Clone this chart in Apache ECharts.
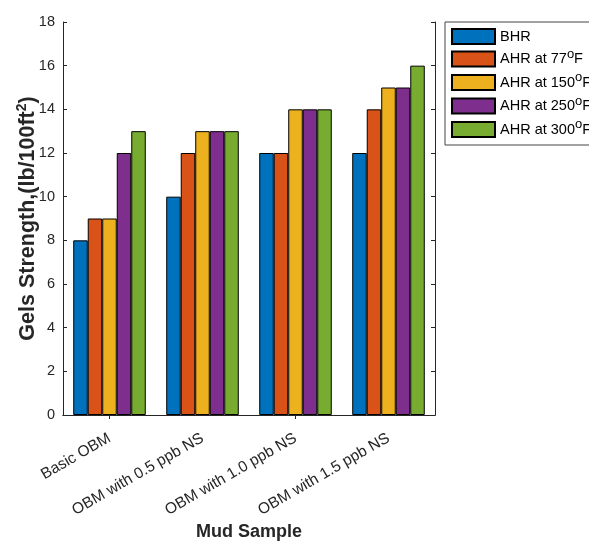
<!DOCTYPE html>
<html><head><meta charset="utf-8">
<script src="https://cdn.jsdelivr.net/npm/echarts@6/dist/echarts.min.js"></script>
<style>html,body{margin:0;padding:0;background:#fff}#c{width:589px;height:543px}</style>
</head><body><div id="c"></div>
<script>
const categories = ['Basic OBM', 'OBM with 0.5 ppb NS', 'OBM with 1.0 ppb NS', 'OBM with 1.5 ppb NS'];
const seriesNames = ['BHR', 'AHR at 77°F', 'AHR at 150°F', 'AHR at 250°F', 'AHR at 300°F'];
const legendLabels = ['{m|BHR}', '{m|AHR at 77}{s|o}{m|F}', '{m|AHR at 150}{s|o}{m|F}', '{m|AHR at 250}{s|o}{m|F}', '{m|AHR at 300}{s|o}{m|F}'];
const bhr = [8, 10, 12, 12];
const ahr77 = [9, 12, 12, 14];
const ahr150 = [9, 13, 14, 15];
const ahr250 = [12, 13, 14, 15];
const ahr300 = [13, 13, 14, 16];
const yTicks = [0, 2, 4, 6, 8, 10, 12, 14, 16, 18];
const colors = ['#0072BD', '#D95319', '#EDB120', '#7E2F8E', '#77AC30'];
const values = [bhr, ahr77, ahr150, ahr250, ahr300];

const axisColor = '#262626';
const font = 'Liberation Sans, Arial, sans-serif';
const chart = echarts.init(document.getElementById('c'));
chart.setOption({
  animation: false,
  grid: { left: 63, right: 154, top: 22, bottom: 128, containLabel: false, outerBoundsMode: 'none' },
  legend: {
    orient: 'vertical', left: 445, top: 22,
    itemWidth: 43, itemHeight: 15, itemGap: -0.5,
    padding: [3, 60, 3, 6],
    borderColor: '#444', borderWidth: 1,
    icon: 'rect',
    data: seriesNames,
    formatter: function (name) { return legendLabels[seriesNames.indexOf(name)]; },
    textStyle: { fontFamily: font, fontSize: 14.5, lineHeight: 23, color: '#000',
      rich: {
        m: { fontFamily: font, fontSize: 14.5, lineHeight: 23, color: '#000' },
        s: { fontFamily: font, fontSize: 13, lineHeight: 12, padding: [0, 0, 11, 0], verticalAlign: 'top', color: '#000' }
      } }
  },
  xAxis: [{
    type: 'category', data: categories, position: 'bottom',
    name: 'Mud Sample', nameLocation: 'middle', nameGap: 108, nameMoveOverlap: false,
    nameTextStyle: { fontFamily: font, fontSize: 18, fontWeight: 'bold', color: axisColor },
    axisLine: { lineStyle: { color: axisColor, width: 1 } },
    axisTick: { inside: true, alignWithLabel: true, length: 4, lineStyle: { color: axisColor } },
    axisLabel: { rotate: 30, fontFamily: font, fontSize: 15.5, color: axisColor, margin: 22, interval: 0 }
  }, {
    type: 'category', data: categories, position: 'top',
    axisLine: { show: true, lineStyle: { color: axisColor, width: 1 } },
    axisTick: { show: true, inside: true, alignWithLabel: true, length: 4, lineStyle: { color: axisColor } },
    axisLabel: { show: false }
  }],
  yAxis: [{
    type: 'value', min: 0, max: 18, interval: 2, position: 'left',
    name: '{m|Gels Strength,(lb/100ft}{s|2}{m|)}', nameLocation: 'middle', nameGap: 22, nameRotate: 90, nameMoveOverlap: false,
    nameTextStyle: { fontFamily: font, fontSize: 21.5, fontWeight: 'bold', color: axisColor,
      rich: {
        m: { fontFamily: font, fontSize: 21.5, lineHeight: 26, fontWeight: 'bold', color: axisColor },
        s: { fontFamily: font, fontSize: 14, lineHeight: 14, padding: [0, 0, 12, 0], fontWeight: 'bold', verticalAlign: 'top', color: axisColor }
      } },
    axisLine: { show: true, lineStyle: { color: axisColor, width: 1 } },
    axisTick: { show: true, inside: true, length: 4, lineStyle: { color: axisColor } },
    splitLine: { show: false },
    axisLabel: { fontFamily: font, fontSize: 14.5, color: axisColor, margin: 8,
      formatter: function (v) { return yTicks.indexOf(v) >= 0 ? String(v) : ''; } }
  }, {
    type: 'value', min: 0, max: 18, interval: 2, position: 'right',
    axisLine: { show: true, lineStyle: { color: axisColor, width: 1 } },
    axisTick: { show: true, inside: true, length: 4, lineStyle: { color: axisColor } },
    splitLine: { show: false }, axisLabel: { show: false }
  }],
  series: seriesNames.map(function (n, i) {
    return {
      name: n, type: 'bar', data: values[i], xAxisIndex: 0, yAxisIndex: 0,
      barGap: '0%', barCategoryGap: '22%',
      itemStyle: { color: colors[i], borderColor: '#000', borderWidth: 1 }
    };
  })
});
</script></body></html>
